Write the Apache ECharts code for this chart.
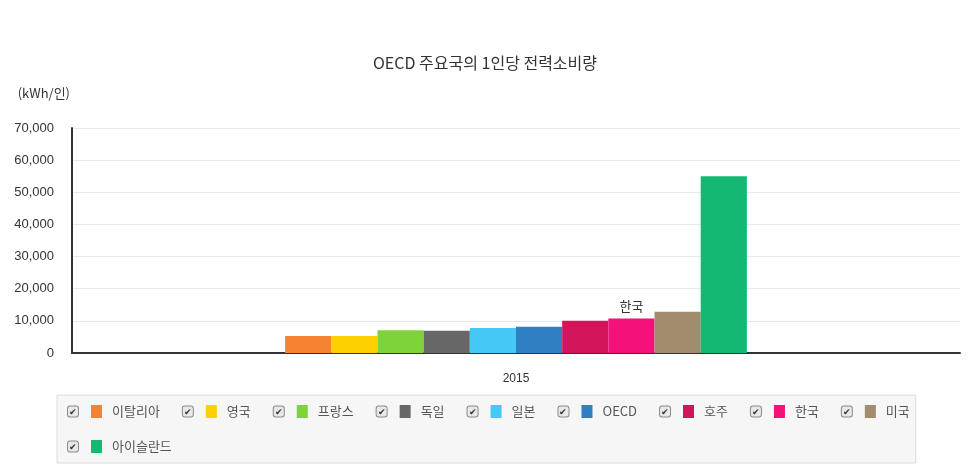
<!DOCTYPE html>
<html>
<head>
<meta charset="utf-8">
<script src="https://cdn.jsdelivr.net/npm/echarts@6/dist/echarts.min.js"></script>
<style>
  html, body { margin: 0; padding: 0; background: #fff; }
  #main { width: 970px; height: 476px; }
</style>
</head>
<body>
<div id="main"></div>
<script>
// 연도 (x축 카테고리)
const years = ['2015']
// 국가 (series 이름)
const countries = ['이탈리아', '영국', '프랑스', '독일', '일본', 'OECD', '호주', '한국', '미국', '아이슬란드']
// 1인당 전력소비량 (kWh/인)
const values = [5300, 5300, 7050, 6950, 7800, 8150, 10000, 10750, 12850, 55000]
const colors = ['#f58230', '#fdd000', '#7ed33a', '#676767', '#45c8f5', '#2e80c3', '#d2145a', '#f5117a', '#a38b6d', '#15b873']

const chart = echarts.init(document.getElementById('main'))

// 범례 rich text: 체크박스 + 색상 박스 + 이름
const rich = {
  cb: {
    width: 10, height: 10, align: 'center', fontSize: 9, color: '#333',
    backgroundColor: '#e8e8e8', borderColor: '#8a8a8a', borderWidth: 1, borderRadius: 2
  },
  sp: { width: 13 },
  sp2: { width: 10 },
  nm: { fontSize: 13, color: '#555', fontFamily: 'Noto Sans CJK KR' }
}
countries.forEach((c, i) => {
  rich['s' + i] = { width: 11, height: 13, backgroundColor: colors[i] }
})

const series = countries.map((name, i) => ({
  name: name,
  type: 'bar',
  data: [values[i]],
  barGap: '0%',
  barCategoryGap: '48%',
  itemStyle: { color: colors[i] },
  label: {
    show: name === '한국',
    position: 'top',
    distance: 6,
    formatter: '{a}',
    color: '#333',
    fontSize: 13,
    fontFamily: 'Noto Sans CJK KR'
  }
}))

const option = {
  animation: false,
  textStyle: { fontFamily: 'Noto Sans CJK KR' },
  title: {
    text: 'OECD 주요국의 1인당 전력소비량',
    left: 'center',
    top: 50,
    textStyle: { fontSize: 16, fontWeight: 'normal', color: '#333', fontFamily: 'Noto Sans CJK KR' }
  },
  legend: {
    left: 57,
    top: 395,
    width: 850,
    padding: [8, 6, 8, 6],
    itemGap: 18,
    itemWidth: 0,
    itemHeight: 0,
    icon: 'rect',
    backgroundColor: '#f6f6f6',
    borderColor: '#dcdcdc',
    borderWidth: 1,
    selectedMode: false,
    data: countries,
    formatter: name => '{cb|✔}{sp|}{s' + countries.indexOf(name) + '|}{sp2|}{nm|' + name + '}',
    textStyle: { rich: rich, lineHeight: 17 }
  },
  grid: { left: 72, right: 10, top: 128, bottom: 123 },
  xAxis: {
    type: 'category',
    data: years,
    axisLine: { lineStyle: { color: '#333', width: 2 } },
    axisTick: { show: false },
    axisLabel: { color: '#333', fontSize: 12, margin: 20, fontFamily: 'Liberation Sans' }
  },
  yAxis: {
    type: 'value',
    min: 0,
    max: 70000,
    interval: 10000,
    name: '(kWh/인)',
    nameGap: 28,
    nameTextStyle: { align: 'right', color: '#333', fontSize: 13, padding: [0, 2, 0, 0] },
    axisLine: { show: true, lineStyle: { color: '#333', width: 2 } },
    axisTick: { show: false },
    axisLabel: { color: '#333', fontSize: 13, margin: 18, fontFamily: 'Liberation Sans' },
    splitLine: { lineStyle: { color: '#e8e8e8' } }
  },
  series: series
}

chart.setOption(option)
</script>
</body>
</html>
